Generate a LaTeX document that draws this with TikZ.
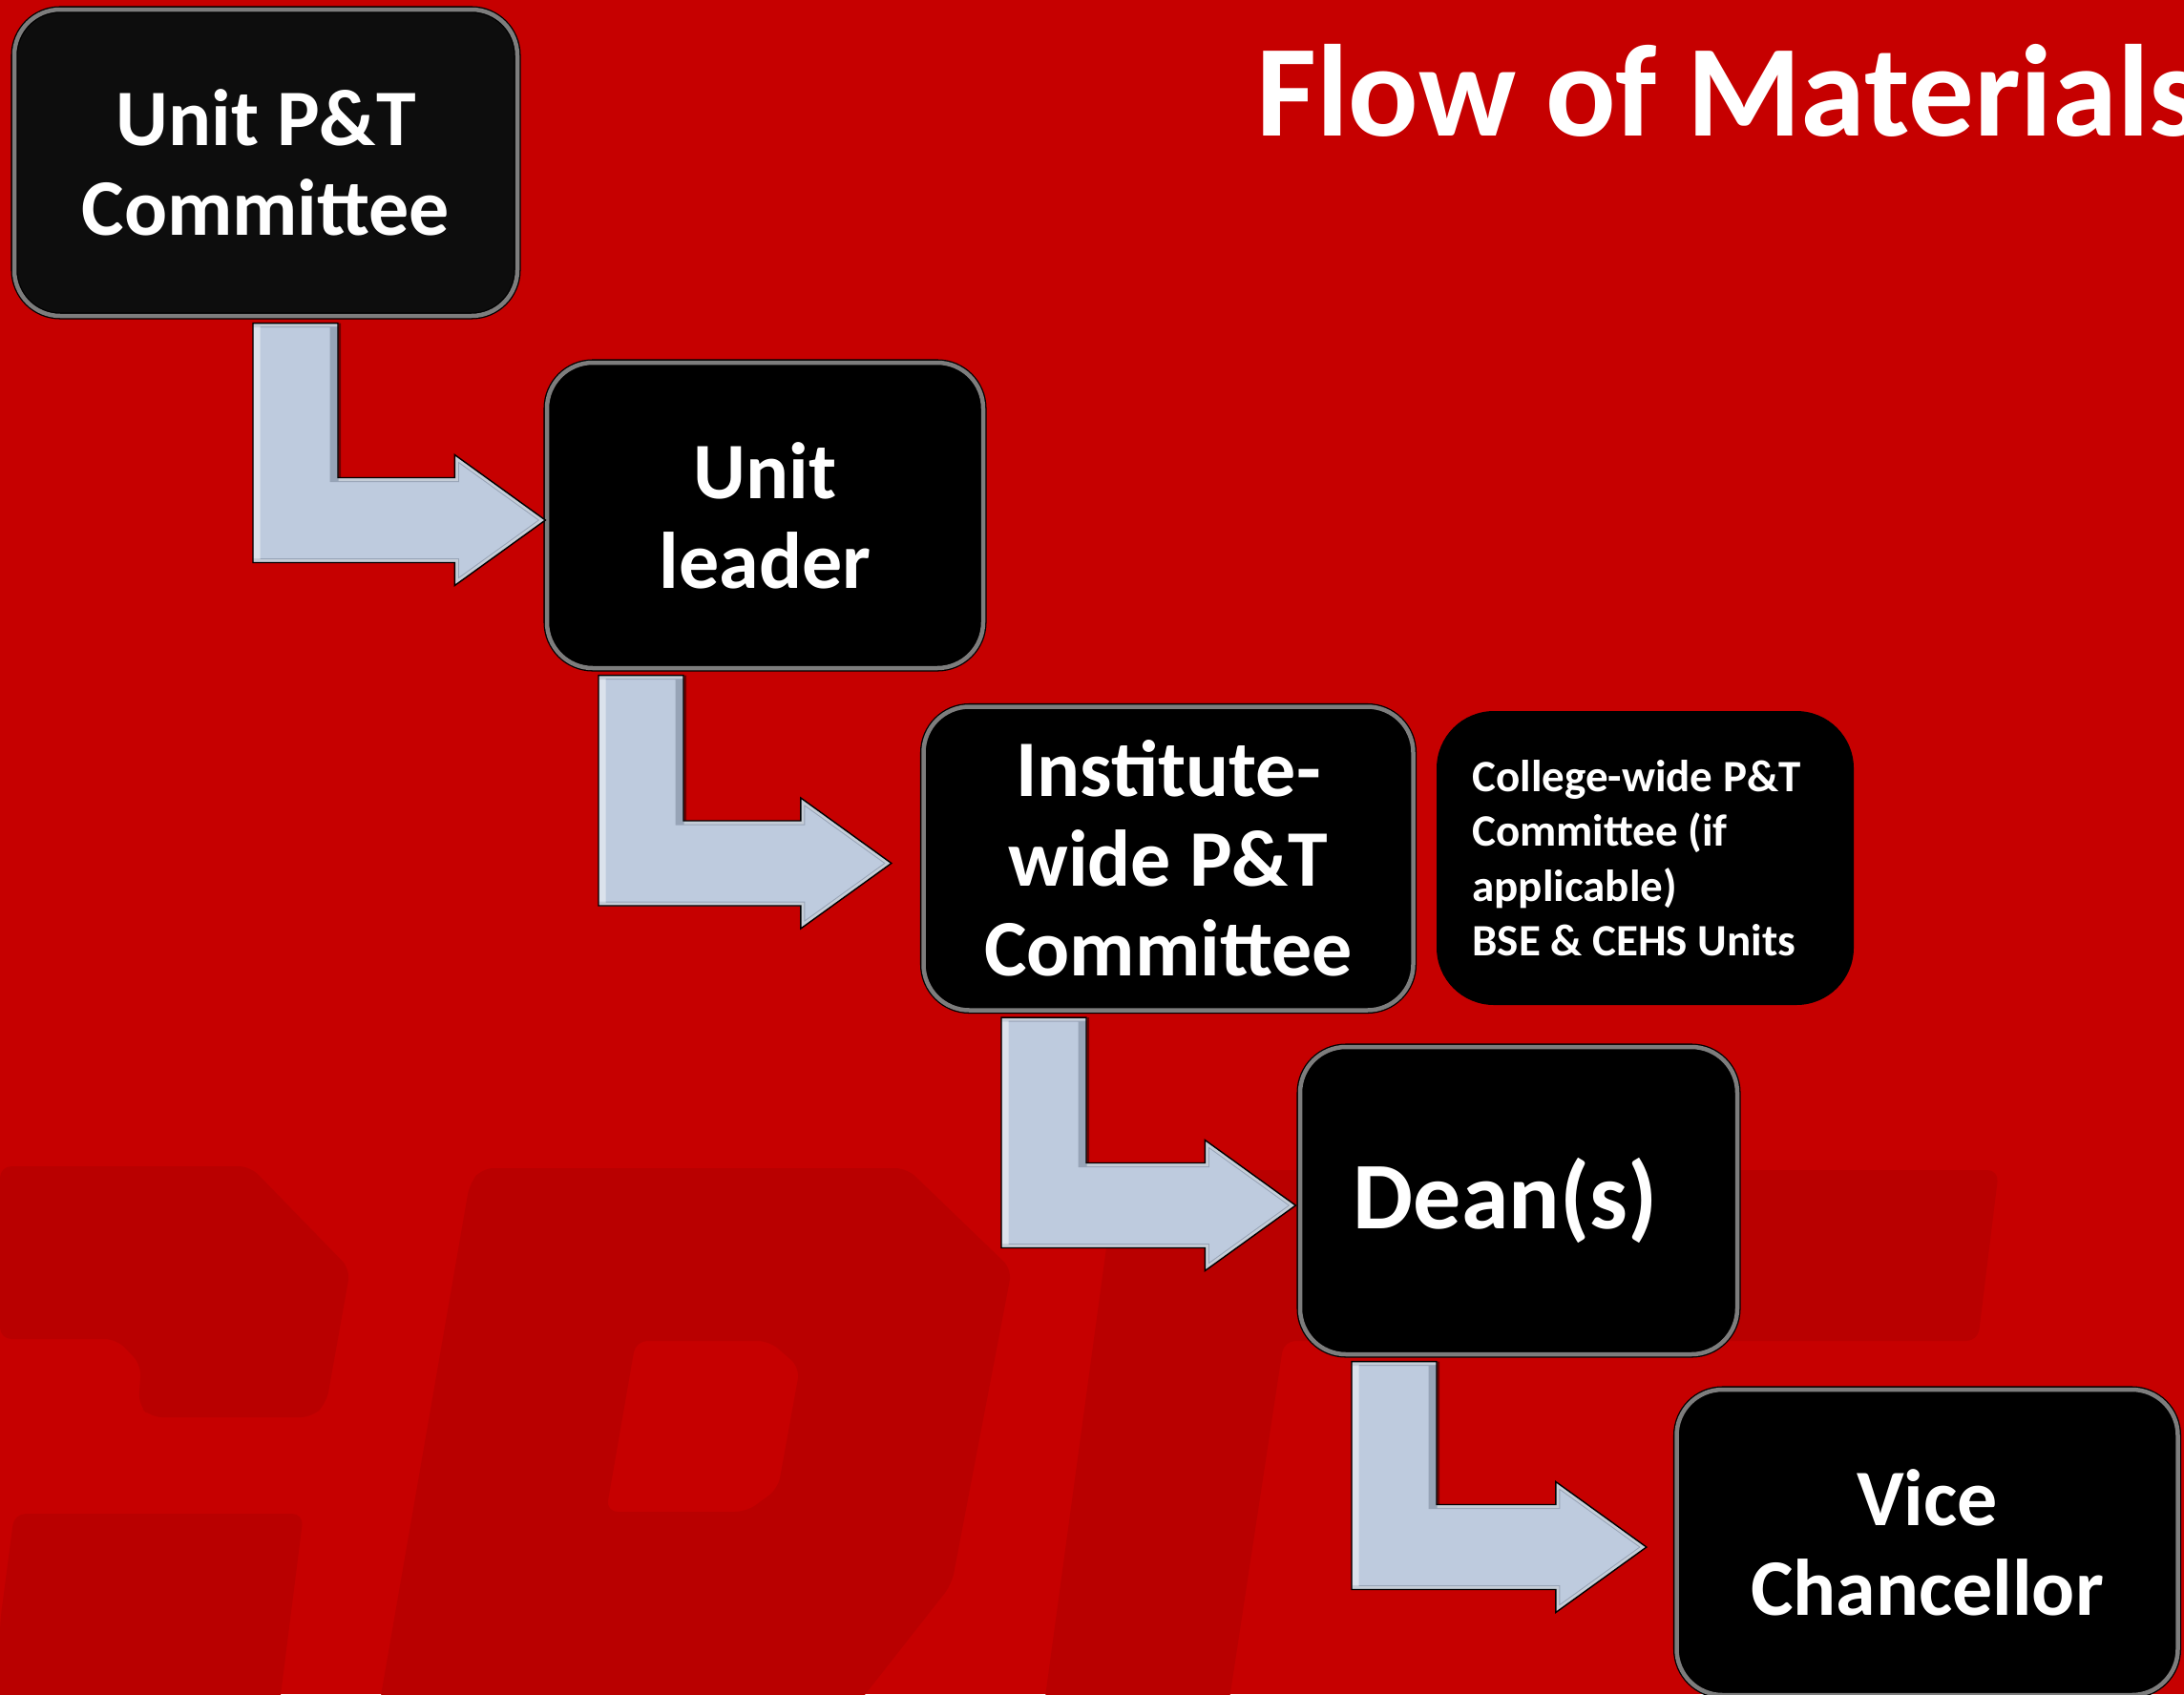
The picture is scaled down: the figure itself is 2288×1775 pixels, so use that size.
\documentclass[tikz,border=0pt]{standalone}
\usepackage{fontspec}
\setmainfont{Carlito}
\usetikzlibrary{calc}
\definecolor{bgred}{RGB}{198,0,0}
\definecolor{wmred}{RGB}{185,0,0}
\definecolor{arrowfill}{RGB}{190,203,222}
\definecolor{arrowdark}{RGB}{120,132,152}
\definecolor{rimgray}{RGB}{125,125,125}

% points of a bent block arrow from the bottom of node #1 to the west side of node #2
% #3 = x of the left side of the stem, #4 = gap between tip and node #2
\newcommand\arrowpts[4]{let \p1=(#1.south), \p2=(#2.west) in
 (#3pt,\y1-7pt) -- (#3pt+89pt,\y1-7pt) -- (#3pt+89pt,\y2-5pt+44.5pt)
 -- (\x2-#4pt-95pt,\y2-5pt+44.5pt) -- (\x2-#4pt-95pt,\y2-5pt+68.5pt)
 -- (\x2-#4pt,\y2-5pt) -- (\x2-#4pt-95pt,\y2-5pt-68.5pt)
 -- (\x2-#4pt-95pt,\y2-5pt-44.5pt) -- (#3pt,\y2-5pt-44.5pt) -- cycle}

\newcommand\bentarrow[4]{%
 \fill[black,opacity=.45,shift={(3pt,-3pt)}] \arrowpts{#1}{#2}{#3}{#4};
 \fill[arrowfill] \arrowpts{#1}{#2}{#3}{#4};
 \begin{scope}
  \clip \arrowpts{#1}{#2}{#3}{#4};
  \draw[arrowdark,line width=9pt,opacity=.55,shift={(-4pt,4pt)}] \arrowpts{#1}{#2}{#3}{#4};
  \draw[white,line width=7pt,opacity=.45,shift={(4pt,-4pt)}] \arrowpts{#1}{#2}{#3}{#4};
 \end{scope}
 \draw[black,line width=1.4pt,line join=miter] \arrowpts{#1}{#2}{#3}{#4};
}

\begin{document}
\begin{tikzpicture}[x=1pt,y=-1pt,
  flowbox/.style={draw=black, double=rimgray, double distance=4.5pt, line width=1.3pt,
    fill=black, rounded corners=48pt, text=white, align=center, inner sep=0pt,
    font=\bfseries\fontsize{84}{94}\selectfont},
  sidebox/.style={fill=black, rounded corners=60pt, text=white, align=left, inner sep=0pt,
    font=\bfseries\fontsize{47}{57.5}\selectfont},
  titletext/.style={text=white, inner sep=0pt, font=\bfseries\fontsize{137}{150}\selectfont},
  watermark/.style={fill=wmred, rounded corners=12pt}
]
\useasboundingbox (0,0) rectangle (2288,1775);
\clip (0,0) rectangle (2288,1775);
\fill[bgred] (0,0) rectangle (2288,1775);

% faint watermark letters
\fill[watermark] (0,1222) -- (262,1222) -- (367,1330) -- (342,1470) -- (327,1485)
  -- (158,1485) -- (145,1472) -- (148,1430) -- (122,1403) -- (0,1403) -- cycle;
\fill[watermark] (15,1586) -- (318,1586) -- (291,1800) -- (0,1800) -- (0,1700) -- cycle;
\fill[watermark,even odd rule] (505,1224) -- (950,1224) -- (1060,1330) -- (997,1660)
  -- (887,1800) -- (395,1800) -- (492,1240) -- cycle
  (666,1405) -- (806,1405) -- (838,1433) -- (815,1560) -- (782,1584) -- (635,1584) -- cycle;
\fill[watermark] (1175,1226) -- (2094,1226) -- (2072,1405) -- (1345,1405)
  -- (1285,1800) -- (1092,1800) -- (1160,1300) -- cycle;

% title
\node[titletext, anchor=base west] (title) at (1316,142) {Flow of Materials};

% boxes
\node[flowbox, fill=black!95, minimum width=527pt, minimum height=321pt] (upt) at (278.5,170.5) {Unit P\&T\\Committee};
\node[flowbox, minimum width=457pt, minimum height=320pt] (ul) at (801.5,540) {Unit\\leader};
\node[flowbox, minimum width=513pt, minimum height=318pt] (iw) at (1224,899.5) {Institute-\\wide P\&T\\Committee};
\node[sidebox, minimum width=437pt, minimum height=308pt] (cw) at (1723.5,899) {College-wide P\&T\hspace*{18pt}\\Committee (if\\applicable)\\BSE \& CEHS Units};
\node[flowbox, minimum width=458pt, minimum height=322pt, font=\bfseries\fontsize{100}{110}\selectfont] (dean) at (1591,1258) {Dean(s)\hspace*{28pt}};
\node[flowbox, minimum width=525pt, minimum height=320pt] (vc) at (2019,1616) {Vice\\Chancellor};

% bent block arrows
\bentarrow{upt}{ul}{265}{1}
\bentarrow{ul}{iw}{627}{33}
\bentarrow{iw}{dean}{1049}{4}
\bentarrow{dean}{vc}{1416}{31}
\end{tikzpicture}
\end{document}
